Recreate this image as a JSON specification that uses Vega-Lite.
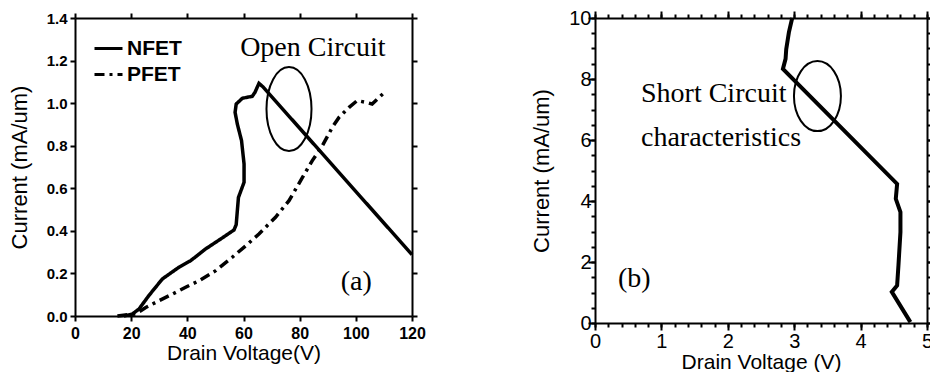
{
  "$schema": "https://vega.github.io/schema/vega-lite/v6.json",
  "padding": {"top": 8, "left": 8, "right": 0, "bottom": 0},
  "spacing": 104,
  "config": {
    "view": {"stroke": null, "fill": null},
    "axis": {
      "domainColor": "black", "domainWidth": 2, "tickColor": "black", "tickWidth": 2,
      "labelColor": "black", "titleColor": "black", "grid": false,
      "labelFont": "Liberation Sans", "titleFont": "Liberation Sans", "titleFontWeight": "normal",
      "labelFlush": false, "labelOverlap": false
    }
  },
  "datasets": {
    "left": [
      {"s": "NFET", "k": 0, "v": 17.4, "i": 0.0},
      {"s": "NFET", "k": 1, "v": 20.4, "i": 0.009},
      {"s": "NFET", "k": 2, "v": 22.8, "i": 0.033},
      {"s": "NFET", "k": 3, "v": 26.3, "i": 0.096},
      {"s": "NFET", "k": 4, "v": 31.1, "i": 0.174},
      {"s": "NFET", "k": 5, "v": 37.0, "i": 0.229},
      {"s": "NFET", "k": 6, "v": 41.2, "i": 0.26},
      {"s": "NFET", "k": 7, "v": 46.5, "i": 0.315},
      {"s": "NFET", "k": 8, "v": 51.9, "i": 0.362},
      {"s": "NFET", "k": 9, "v": 56.6, "i": 0.404},
      {"s": "NFET", "k": 10, "v": 57.4, "i": 0.429},
      {"s": "NFET", "k": 11, "v": 58.2, "i": 0.557},
      {"s": "NFET", "k": 12, "v": 60.2, "i": 0.628},
      {"s": "NFET", "k": 13, "v": 60.2, "i": 0.714},
      {"s": "NFET", "k": 14, "v": 59.3, "i": 0.824},
      {"s": "NFET", "k": 15, "v": 57.8, "i": 0.902},
      {"s": "NFET", "k": 16, "v": 57.0, "i": 0.957},
      {"s": "NFET", "k": 17, "v": 57.4, "i": 0.996},
      {"s": "NFET", "k": 18, "v": 59.6, "i": 1.023},
      {"s": "NFET", "k": 19, "v": 63.1, "i": 1.032},
      {"s": "NFET", "k": 20, "v": 64.1, "i": 1.051},
      {"s": "NFET", "k": 21, "v": 65.5, "i": 1.093},
      {"s": "NFET", "k": 22, "v": 66.9, "i": 1.077},
      {"s": "NFET", "k": 23, "v": 120.0, "i": 0.288},
      {"s": "PFET", "k": 0, "v": 15.1, "i": 0.0},
      {"s": "PFET", "k": 1, "v": 21.6, "i": 0.01},
      {"s": "PFET", "k": 2, "v": 25.2, "i": 0.04},
      {"s": "PFET", "k": 3, "v": 29.9, "i": 0.072},
      {"s": "PFET", "k": 4, "v": 34.7, "i": 0.103},
      {"s": "PFET", "k": 5, "v": 39.4, "i": 0.135},
      {"s": "PFET", "k": 6, "v": 44.2, "i": 0.166},
      {"s": "PFET", "k": 7, "v": 50.1, "i": 0.213},
      {"s": "PFET", "k": 8, "v": 56.0, "i": 0.276},
      {"s": "PFET", "k": 9, "v": 60.8, "i": 0.33},
      {"s": "PFET", "k": 10, "v": 65.5, "i": 0.385},
      {"s": "PFET", "k": 11, "v": 71.4, "i": 0.464},
      {"s": "PFET", "k": 12, "v": 76.2, "i": 0.542},
      {"s": "PFET", "k": 13, "v": 81.0, "i": 0.651},
      {"s": "PFET", "k": 14, "v": 84.5, "i": 0.73},
      {"s": "PFET", "k": 15, "v": 88.1, "i": 0.8},
      {"s": "PFET", "k": 16, "v": 91.6, "i": 0.886},
      {"s": "PFET", "k": 17, "v": 94.0, "i": 0.933},
      {"s": "PFET", "k": 18, "v": 97.6, "i": 0.98},
      {"s": "PFET", "k": 19, "v": 100.5, "i": 1.012},
      {"s": "PFET", "k": 20, "v": 103.5, "i": 1.004},
      {"s": "PFET", "k": 21, "v": 105.8, "i": 0.996},
      {"s": "PFET", "k": 22, "v": 107.7, "i": 1.02},
      {"s": "PFET", "k": 23, "v": 110.6, "i": 1.056}
    ],
    "right": [
      {"k": 0, "v": 2.97, "i": 10.0},
      {"k": 1, "v": 2.92, "i": 9.53},
      {"k": 2, "v": 2.88, "i": 8.98},
      {"k": 3, "v": 2.87, "i": 8.66},
      {"k": 4, "v": 2.83, "i": 8.33},
      {"k": 5, "v": 4.55, "i": 4.56},
      {"k": 6, "v": 4.53, "i": 4.07},
      {"k": 7, "v": 4.6, "i": 3.64},
      {"k": 8, "v": 4.6, "i": 2.98},
      {"k": 9, "v": 4.57, "i": 1.89},
      {"k": 10, "v": 4.55, "i": 1.23},
      {"k": 11, "v": 4.47, "i": 1.02},
      {"k": 12, "v": 4.75, "i": 0.03}
    ],
    "one": [{"n": 1}]
  },
  "hconcat": [
    {
      "width": 337,
      "height": 298,
      "layer": [
        {
          "data": {"name": "left"},
          "mark": {"type": "line", "strokeWidth": 3.5, "color": "black"},
          "encoding": {
            "x": {"field": "v", "type": "quantitative", "scale": {"domain": [0, 120], "nice": false},
              "axis": {"orient": "bottom", "values": [0, 20, 40, 60, 80, 100, 120], "tickSize": 5,
                "labelFontWeight": "bold", "labelFontSize": 16, "labelPadding": 4,
                "title": "Drain Voltage(V)", "titleFontSize": 21, "titlePadding": 1}},
            "y": {"field": "i", "type": "quantitative", "scale": {"domain": [0, 1.4], "nice": false},
              "axis": {"orient": "left", "values": [0, 0.2, 0.4, 0.6, 0.8, 1.0, 1.2, 1.4], "format": ".1f", "tickSize": 5,
                "labelFontWeight": "bold", "labelFontSize": 15, "labelPadding": 3,
                "title": "Current (mA/um)", "titleFontSize": 22, "titlePadding": 15}},
            "strokeDash": {"field": "s", "type": "nominal",
              "scale": {"domain": ["NFET", "PFET"], "range": [[1, 0], [10, 5, 3, 5]]},
              "legend": {"orient": "none", "legendX": 18, "legendY": 15, "title": null,
                "symbolType": "stroke", "symbolSize": 784, "symbolStrokeWidth": 3, "symbolStrokeColor": "black",
                "labelFont": "Liberation Sans", "labelFontWeight": "bold", "labelFontSize": 21, "labelColor": "black",
                "labelOffset": 3, "rowPadding": 0, "padding": 0}},
            "order": {"field": "k", "type": "quantitative"}
          }
        },
        {
          "data": {"name": "one"},
          "mark": {"type": "point", "shape": "M -0.536 0 A 0.536 1 0 1 0 0.536 0 A 0.536 1 0 1 0 -0.536 0 Z", "filled": false, "strokeWidth": 2, "color": "black", "opacity": 1},
          "encoding": {
            "x": {"datum": 76.2, "type": "quantitative",
              "axis": {"orient": "top", "values": [0, 20, 40, 60, 80, 100, 120], "tickSize": 5,
                "labels": false, "title": null}},
            "y": {"datum": 0.972, "type": "quantitative",
              "axis": {"orient": "right", "values": [0, 0.2, 0.4, 0.6, 0.8, 1.0, 1.2, 1.4], "tickSize": 5,
                "labels": false, "title": null}},
            "size": {"value": 7056}
          }
        },
        {
          "data": {"name": "one"},
          "mark": {"type": "text", "font": "Liberation Serif", "fontSize": 28, "align": "left", "baseline": "alphabetic", "color": "black"},
          "encoding": {
            "x": {"datum": 58.8, "type": "quantitative", "axis": null},
            "y": {"datum": 1.221, "type": "quantitative", "axis": null},
            "text": {"value": "Open Circuit"}
          }
        },
        {
          "data": {"name": "one"},
          "mark": {"type": "text", "font": "Liberation Serif", "fontSize": 28, "align": "left", "baseline": "alphabetic", "color": "black"},
          "encoding": {
            "x": {"datum": 94.6, "type": "quantitative", "axis": null},
            "y": {"datum": 0.122, "type": "quantitative", "axis": null},
            "text": {"value": "(a)"}
          }
        }
      ],
      "resolve": {"axis": {"x": "independent", "y": "independent"}}
    },
    {
      "width": 332,
      "height": 305,
      "layer": [
        {
          "data": {"name": "right"},
          "mark": {"type": "line", "strokeWidth": 4, "color": "black"},
          "encoding": {
            "x": {"field": "v", "type": "quantitative", "scale": {"domain": [0, 5], "nice": false},
              "axis": {"orient": "bottom",
                "values": [0, 1, 2, 3, 4, 5], "format": "d", "tickSize": 7,
                "labelFontSize": 20, "labelPadding": 1,
                "title": "Drain Voltage (V)", "titleFontSize": 21, "titlePadding": 0}},
            "y": {"field": "i", "type": "quantitative", "scale": {"domain": [0, 10], "nice": false},
              "axis": {"orient": "left",
                "values": [0, 2, 4, 6, 8, 10], "format": "d", "tickSize": 7,
                "labelFontSize": 20, "labelPadding": -3,
                "title": "Current (mA/um)", "titleFontSize": 22, "titlePadding": 15}},
            "order": {"field": "k", "type": "quantitative"}
          }
        },
        {
          "data": {"name": "one"},
          "mark": {"type": "point", "shape": "M -0.671 0 A 0.671 1 0 1 0 0.671 0 A 0.671 1 0 1 0 -0.671 0 Z", "filled": false, "strokeWidth": 2, "color": "black", "opacity": 1},
          "encoding": {
            "x": {"datum": 3.35, "type": "quantitative",
              "axis": {"orient": "top", "values": [0, 1, 2, 3, 4, 5], "tickSize": 7,
                "labels": false, "title": null}},
            "y": {"datum": 7.44, "type": "quantitative",
              "axis": {"orient": "right", "values": [0, 2, 4, 6, 8, 10], "tickSize": 7,
                "labels": false, "title": null}},
            "size": {"value": 4900}
          }
        },
        {
          "data": {"name": "one"},
          "mark": {"type": "text", "font": "Liberation Serif", "fontSize": 28, "align": "left", "baseline": "alphabetic", "color": "black"},
          "encoding": {
            "x": {"datum": 0.693, "type": "quantitative",
              "axis": {"orient": "bottom",
                "values": [0, 0.2, 0.4, 0.6, 0.8, 1, 1.2, 1.4, 1.6, 1.8, 2, 2.2, 2.4, 2.6, 2.8, 3, 3.2, 3.4, 3.6, 3.8, 4, 4.2, 4.4, 4.6, 4.8, 5],
                "tickSize": 4, "labels": false, "domain": false, "title": null}},
            "y": {"datum": 7.25, "type": "quantitative",
              "axis": {"orient": "left",
                "values": [0, 0.5, 1, 1.5, 2, 2.5, 3, 3.5, 4, 4.5, 5, 5.5, 6, 6.5, 7, 7.5, 8, 8.5, 9, 9.5, 10],
                "tickSize": 4, "labels": false, "domain": false, "title": null}},
            "text": {"value": "Short Circuit"}
          }
        },
        {
          "data": {"name": "one"},
          "mark": {"type": "text", "font": "Liberation Serif", "fontSize": 28, "align": "left", "baseline": "alphabetic", "color": "black"},
          "encoding": {
            "x": {"datum": 0.693, "type": "quantitative",
              "axis": {"orient": "top",
                "values": [0, 0.2, 0.4, 0.6, 0.8, 1, 1.2, 1.4, 1.6, 1.8, 2, 2.2, 2.4, 2.6, 2.8, 3, 3.2, 3.4, 3.6, 3.8, 4, 4.2, 4.4, 4.6, 4.8, 5],
                "tickSize": 4, "labels": false, "domain": false, "title": null}},
            "y": {"datum": 5.8, "type": "quantitative",
              "axis": {"orient": "right",
                "values": [0, 0.5, 1, 1.5, 2, 2.5, 3, 3.5, 4, 4.5, 5, 5.5, 6, 6.5, 7, 7.5, 8, 8.5, 9, 9.5, 10],
                "tickSize": 4, "labels": false, "domain": false, "title": null}},
            "text": {"value": "characteristics"}
          }
        },
        {
          "data": {"name": "one"},
          "mark": {"type": "text", "font": "Liberation Serif", "fontSize": 28, "align": "left", "baseline": "alphabetic", "color": "black"},
          "encoding": {
            "x": {"datum": 0.346, "type": "quantitative", "axis": null},
            "y": {"datum": 1.18, "type": "quantitative", "axis": null},
            "text": {"value": "(b)"}
          }
        }
      ],
      "resolve": {"axis": {"x": "independent", "y": "independent"}}
    }
  ]
}
